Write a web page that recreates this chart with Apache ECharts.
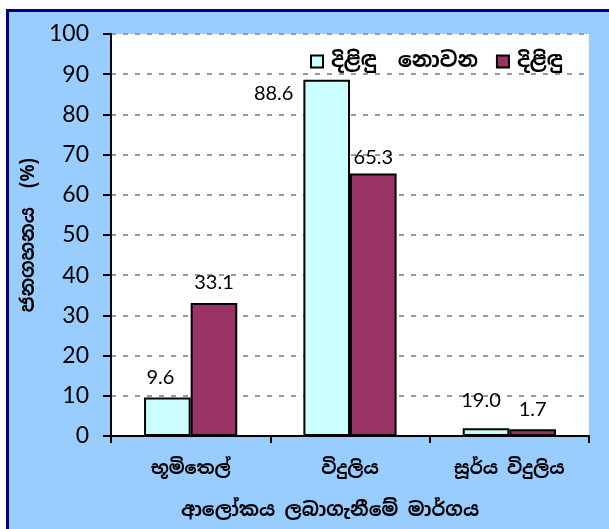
<!DOCTYPE html>
<html>
<head>
<meta charset="utf-8">
<script src="https://cdn.jsdelivr.net/npm/echarts@6/dist/echarts.min.js"></script>
<style>
  html, body { margin: 0; padding: 0; background: #fff; }
  #frame {
    position: absolute; left: 6px; top: 9px; width: 620px; height: 540px;
    background: #99ccff; border-left: 3px solid #000080; border-top: 3px solid #000080;
  }
  #chart { position: absolute; left: 0; top: 0; width: 609px; height: 529px; }
</style>
</head>
<body>
<div id="frame"></div>
<div id="chart"></div>
<script>
// 数据
const categories = ['භූමිතෙල්', 'විදුලිය', 'සූර්ය විදුලිය'];
const seriesNames = ['දිළිඳු  නොවන', 'දිළිඳු'];
const nonPoorValues = [9.6, 88.6, 1.9];
const poorValues = [33.1, 65.3, 1.7];
const nonPoorLabels = ['9.6', '88.6', '19.0'];   // 原图标签照抄
const poorLabels = ['33.1', '65.3', '1.7'];

const numFont = 'Lato, "Liberation Sans", sans-serif';
const sinFont = '"Noto Sans Sinhala", "Iskoola Pota", "Noto Sans", sans-serif';

const chart = echarts.init(document.getElementById('chart'), null, { renderer: 'canvas' });

const barLabel = {
    show: true,
    position: 'top',
    distance: 10,
    fontFamily: numFont,
    fontSize: 20,
    color: '#000'
};

chart.setOption({
    backgroundColor: 'transparent',
    animation: false,
    grid: {
        left: 111, right: 20, top: 34, bottom: 93,
        outerBoundsMode: 'none',
        show: true, backgroundColor: '#fff', borderWidth: 0
    },
    legend: {
        left: 305, top: 46,
        icon: 'rect', itemWidth: 12, itemHeight: 12, itemGap: 18,
        textStyle: { fontFamily: sinFont, fontSize: 21, fontWeight: 'bold', color: '#000', padding: [0, 0, 0, 3] },
        data: seriesNames
    },
    xAxis: {
        type: 'category',
        data: categories,
        axisLine: { lineStyle: { color: '#000', width: 2 } },
        axisTick: { show: true, alignWithLabel: false, length: 7, lineStyle: { color: '#000', width: 2 } },
        axisLabel: { fontFamily: sinFont, fontSize: 18, fontWeight: 'bold', color: '#000', margin: 24 },
        name: 'ආලෝකය ලබාගැනීමේ මාර්ගය',
        nameLocation: 'middle',
        nameGap: 65,
        nameTextStyle: { fontFamily: sinFont, fontSize: 19, fontWeight: 'bold', color: '#000', padding: [0, 40, 0, 0] }
    },
    yAxis: {
        type: 'value',
        min: 0, max: 100, interval: 10,
        axisLine: { show: true, lineStyle: { color: '#000', width: 2 } },
        axisTick: { show: true, length: 8, lineStyle: { color: '#000', width: 2 } },
        axisLabel: { fontFamily: numFont, fontSize: 23, color: '#000', margin: 22 },
        splitLine: { show: true, lineStyle: { color: '#999', width: 2, type: [5, 7] } },
        name: 'ජනගහනය  (%)',
        nameLocation: 'middle',
        nameGap: 70,
        nameTextStyle: { fontFamily: sinFont, fontSize: 19, fontWeight: 'bold', color: '#000' }
    },
    series: [
        {
            name: seriesNames[0],
            type: 'bar',
            barGap: '0%',
            barCategoryGap: '41.5%',
            itemStyle: { color: '#ccffff', borderColor: '#000', borderWidth: 2 },
            label: { ...barLabel, formatter: p => nonPoorLabels[p.dataIndex] },
            data: nonPoorValues.map((v, i) => {
                if (i === 1) {
                    // 88.6 标签在柱子左边
                    return { value: v, label: { position: [-10, 14], align: 'right', verticalAlign: 'middle' } };
                }
                if (i === 2) {
                    return { value: v, label: { distance: 18, offset: [-5, 0] } };
                }
                return { value: v, label: { offset: [-7, 0] } };
            })
        },
        {
            name: seriesNames[1],
            type: 'bar',
            itemStyle: { color: '#993366', borderColor: '#000', borderWidth: 2 },
            label: { ...barLabel, formatter: p => poorLabels[p.dataIndex] },
            data: poorValues.map((v, i) => i === 1 ? { value: v, label: { distance: 6 } } : v)
        }
    ]
});
</script>
</body>
</html>
